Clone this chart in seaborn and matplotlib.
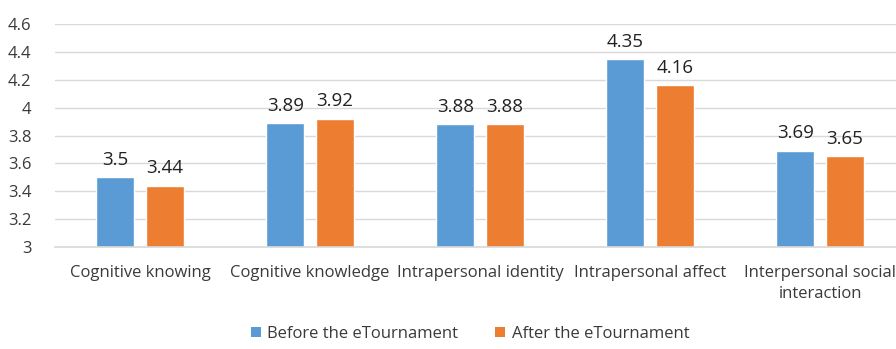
import matplotlib
matplotlib.use("Agg")
import matplotlib.pyplot as plt
import seaborn as sns
import pandas as pd
from matplotlib.patches import Patch

categories = ["Cognitive knowing", "Cognitive knowledge", "Intrapersonal identity",
              "Intrapersonal affect", "Interpersonal social\ninteraction"]
series_names = ["Before the eTournament", "After the eTournament"]
before = [3.5, 3.89, 3.88, 4.35, 3.69]
after = [3.44, 3.92, 3.88, 4.16, 3.65]
y_ticks = [3, 3.2, 3.4, 3.6, 3.8, 4, 4.2, 4.4, 4.6]
y_tick_labels = ["3", "3.2", "3.4", "3.6", "3.8", "4", "4.2", "4.4", "4.6"]

colors = ["#5B9BD5", "#ED7D31"]

df = pd.DataFrame({
    "category": categories * 2,
    "series": [series_names[0]] * len(categories) + [series_names[1]] * len(categories),
    "value": before + after,
})

sns.set_theme(style="white")
plt.rcParams["font.family"] = ["Open Sans", "DejaVu Sans"]

fig = plt.figure(figsize=(8.96, 3.49), dpi=100)
ax = fig.add_axes([55 / 896, 102 / 349, 850 / 896, 223 / 349])

sns.barplot(data=df, x="category", y="value", hue="series", palette=colors,
            width=0.58, gap=0.23, ax=ax, legend=False, saturation=1)

ax.set_ylim(3, 4.6)
ax.set_xlim(-0.5, len(categories) - 0.5)
ax.set_yticks(y_ticks)
ax.set_yticklabels(y_tick_labels)
ax.yaxis.grid(True, color="#D9D9D9", linewidth=1)
ax.set_axisbelow(True)
for side in ["top", "right", "left"]:
    ax.spines[side].set_visible(False)
ax.spines["bottom"].set_color("#D9D9D9")
ax.tick_params(axis="both", length=0, labelsize=12, colors="#3A3A3A")
ax.tick_params(axis="y", pad=17)
ax.tick_params(axis="x", pad=13)
for lbl in ax.get_xticklabels():
    lbl.set_linespacing(1.45)
ax.set_xlabel("")
ax.set_ylabel("")

for container in ax.containers:
    ax.bar_label(container, labels=[f"{v:g}" for v in container.datavalues],
                 padding=6, fontsize=13.5, color="#222222")

handles = [Patch(facecolor=c, edgecolor="none") for c in colors]
fig.legend(handles, series_names, loc="center", bbox_to_anchor=(470 / 896, 1 - 334 / 349),
           ncol=2, frameon=False, fontsize=12, handlelength=0.6, handleheight=0.6,
           handletextpad=0.4, columnspacing=2.2, labelcolor="#3A3A3A")

fig.savefig("out.png", dpi=100)
